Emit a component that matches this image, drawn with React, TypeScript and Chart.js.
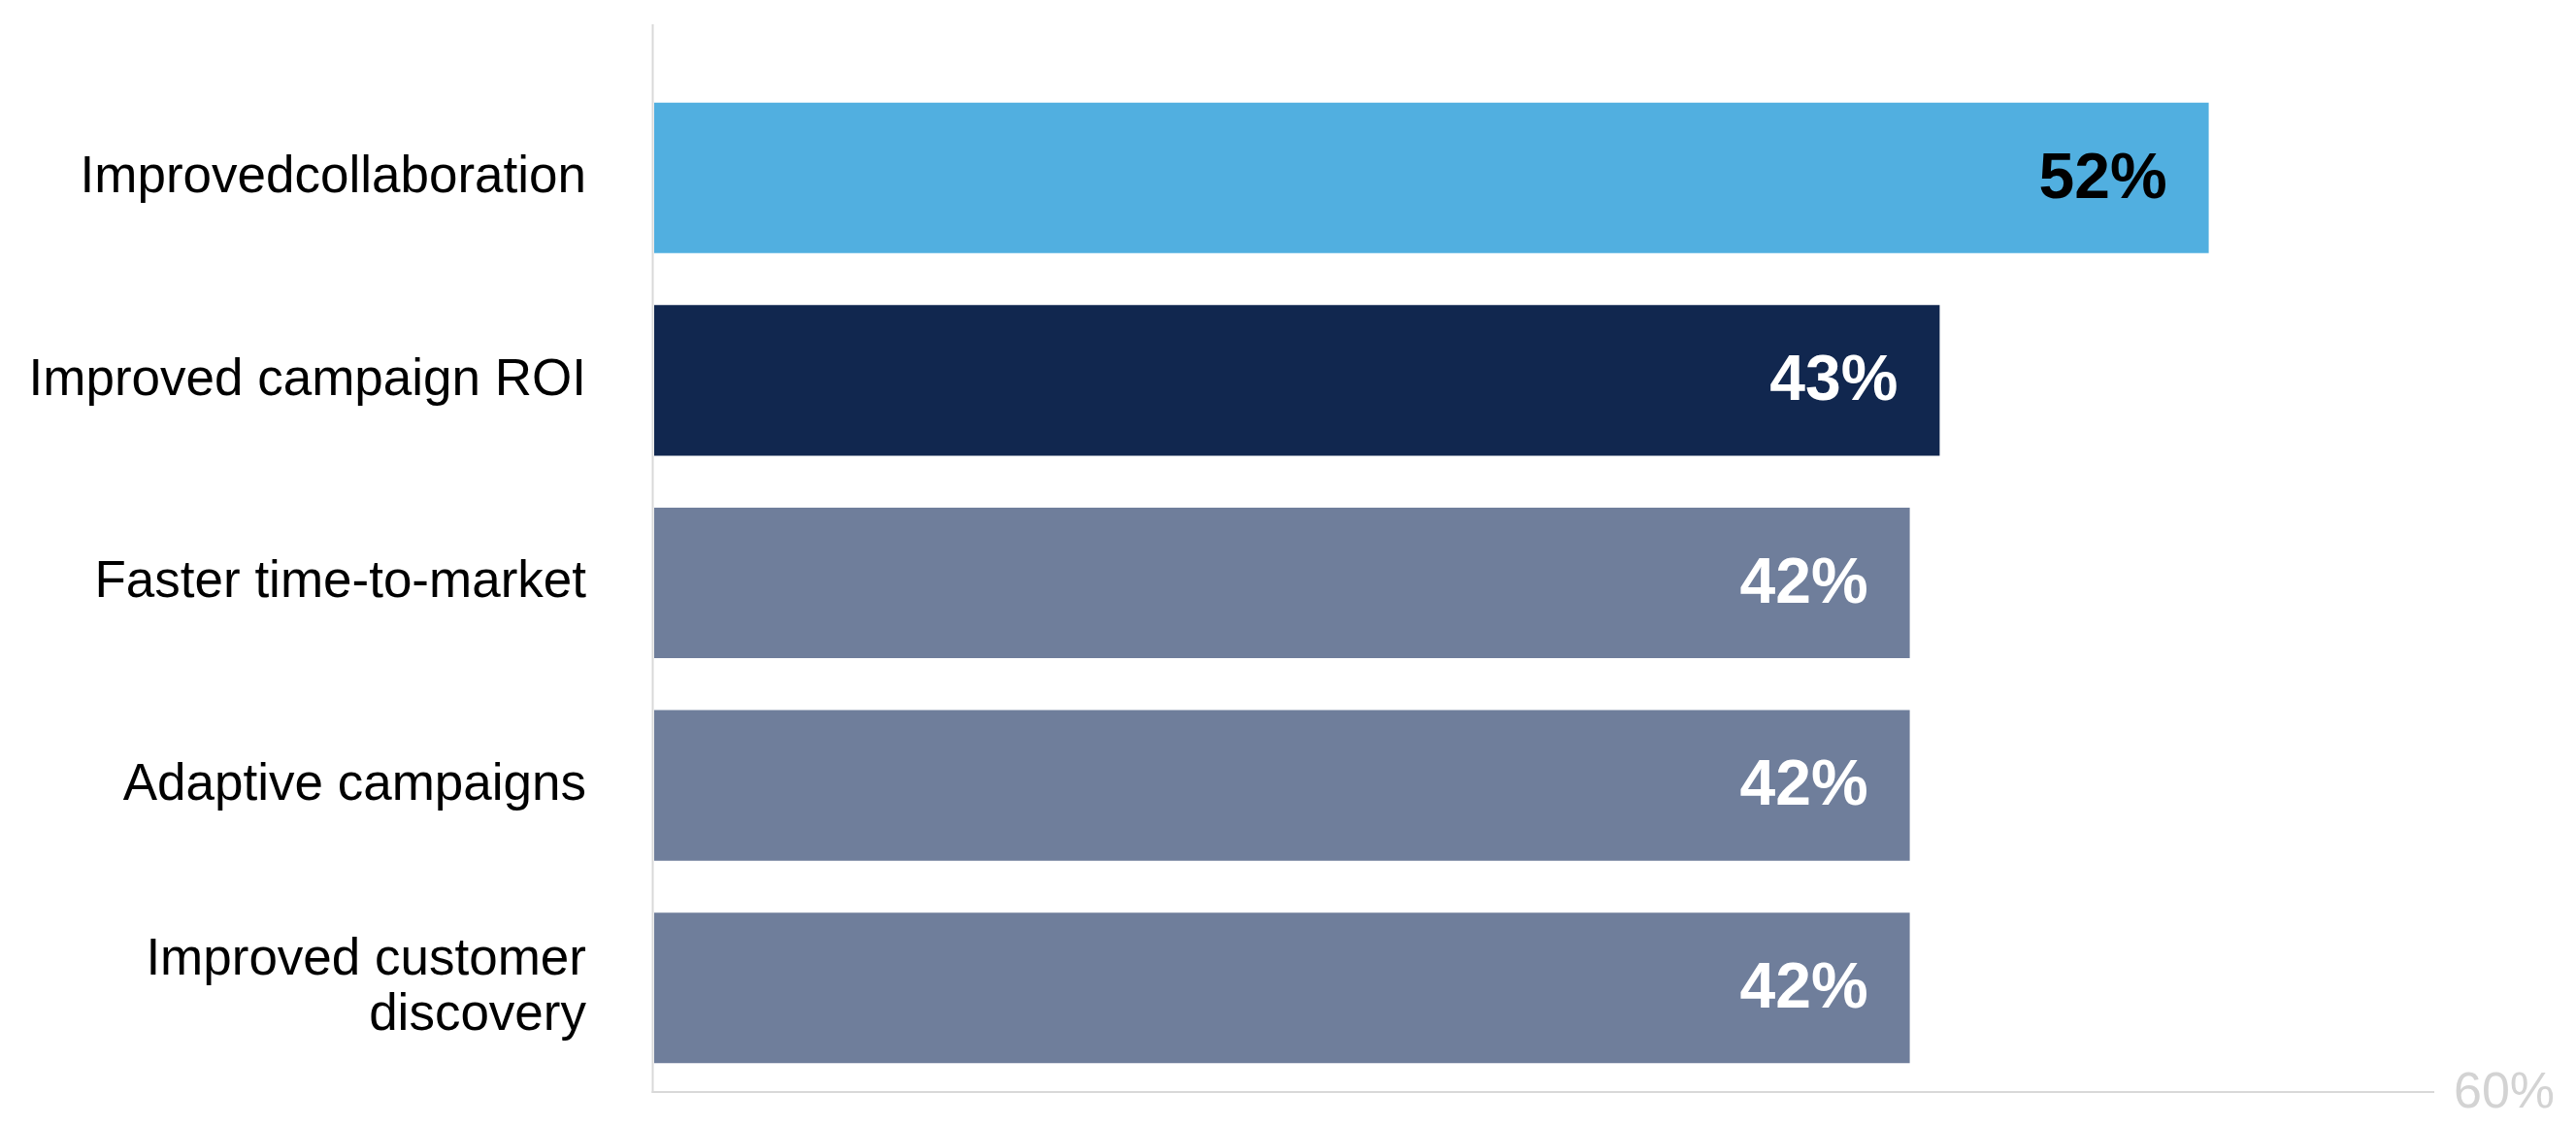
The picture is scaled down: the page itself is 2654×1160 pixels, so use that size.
import React, { useEffect, useRef } from "react";
import { Chart, registerables } from "chart.js";

Chart.register(...registerables);

const categories: (string | string[])[] = [
  "Improvedcollaboration",
  "Improved campaign ROI",
  "Faster time-to-market",
  "Adaptive campaigns",
  ["Improved customer", "discovery"],
];
const values = [52, 43, 42, 42, 42];
const barColors = ["#51AFE0", "#11274F", "#6F7E9B", "#6F7E9B", "#6F7E9B"];
const valueLabelColors = ["#000000", "#FFFFFF", "#FFFFFF", "#FFFFFF", "#FFFFFF"];
const xMax = 60;
const xTickLabels = ["60%"];

const FONT = "'Liberation Sans', Arial, sans-serif";

const decorPlugin = {
  id: "decor",
  beforeDatasetsDraw(chart: any) {
    const { ctx, chartArea } = chart;
    const xs = chart.scales.x;
    ctx.save();
    ctx.strokeStyle = "#D9D9D9";
    ctx.lineWidth = 2;
    ctx.beginPath();
    ctx.moveTo(chartArea.left - 1.5, chartArea.top - 54);
    ctx.lineTo(chartArea.left - 1.5, chartArea.bottom + 4);
    ctx.stroke();
    ctx.beginPath();
    ctx.moveTo(chartArea.left - 2.5, chartArea.bottom + 3);
    ctx.lineTo(xs.getPixelForValue(xMax) - 14, chartArea.bottom + 3);
    ctx.stroke();
    ctx.fillStyle = "#D3D3D3";
    ctx.font = `52px ${FONT}`;
    ctx.textAlign = "left";
    ctx.textBaseline = "middle";
    ctx.fillText(xTickLabels[0], xs.getPixelForValue(xMax) + 6, chartArea.bottom + 5);
    ctx.restore();
  },
  afterDatasetsDraw(chart: any) {
    const { ctx } = chart;
    const meta = chart.getDatasetMeta(0);
    ctx.save();
    ctx.font = `bold 66px ${FONT}`;
    ctx.textAlign = "right";
    ctx.textBaseline = "middle";
    meta.data.forEach((bar: any, i: number) => {
      ctx.fillStyle = valueLabelColors[i];
      ctx.fillText(`${values[i]}%`, bar.x - 43, bar.y + 2);
    });
    ctx.restore();
  },
};

export default function App() {
  const canvasRef = useRef<HTMLCanvasElement | null>(null);

  useEffect(() => {
    if (!canvasRef.current) return;
    const chart = new Chart(canvasRef.current, {
      type: "bar",
      data: {
        labels: categories as any,
        datasets: [
          {
            data: values,
            backgroundColor: barColors,
            borderWidth: 0,
            barPercentage: 0.7434,
            categoryPercentage: 1,
          },
        ],
      },
      options: {
        indexAxis: "y",
        responsive: false,
        animation: false,
        devicePixelRatio: 1,
        layout: { padding: { top: 79, bottom: 38, right: 132, left: 0 } },
        plugins: {
          legend: { display: false },
          tooltip: { enabled: false },
        },
        scales: {
          x: { min: 0, max: xMax, display: false },
          y: {
            grid: { display: false, drawTicks: false },
            border: { display: false },
            ticks: {
              padding: 70,
              color: "#000000",
              font: { family: FONT, size: 53, lineHeight: 1.08 },
            },
            afterFit: (s: any) => {
              s.width = 674;
              s.paddingTop = 0;
              s.paddingBottom = 0;
            },
          },
        },
      },
      plugins: [decorPlugin],
    });
    return () => chart.destroy();
  }, []);

  return (
    <div style={{ position: "fixed", left: 0, top: 0, width: 2654, height: 1160, background: "#fff" }}>
      <canvas ref={canvasRef} width={2654} height={1160} style={{ width: 2654, height: 1160, display: "block" }} />
    </div>
  );
}
